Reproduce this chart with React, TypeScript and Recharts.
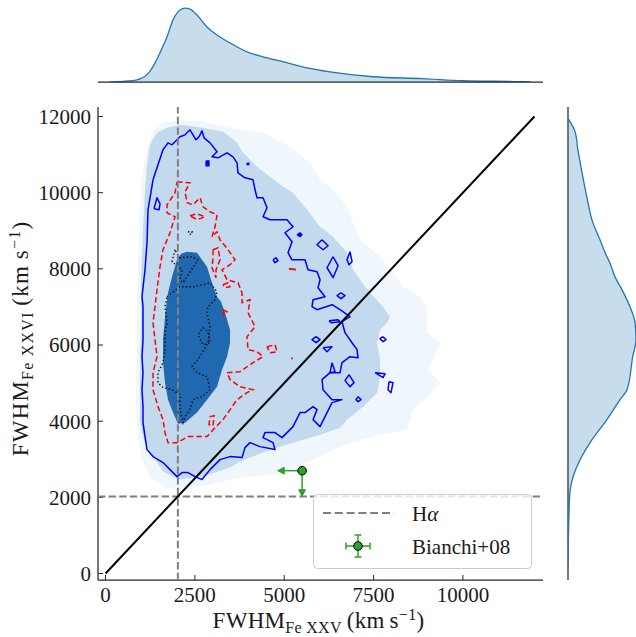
import React from 'react';
import { ComposedChart, AreaChart, Area, Scatter, XAxis, YAxis, ReferenceLine, Legend } from 'recharts';

type P = [number, number];

// ---------- ticks & reference values ----------
const xTicks = [0, 2500, 5000, 7500, 10000];
const yTicks = [0, 2000, 4000, 6000, 8000, 10000, 12000];
const xDomain: [number, number] = [-210, 12240];
const yDomain: [number, number] = [-170, 12250];
const halphaFwhm = 2025;
const oneToOneLine: P[] = [[0, 0], [12000, 12000]];
const bianchiX = 5500;
const bianchiY = 2700;
const bianchiLimit = 500;

// ---------- marginal KDEs ----------
const topKdeX = [125, 484, 881, 1161, 1329, 1525, 1721, 1889, 2085, 2225, 2364, 2560, 2840, 3120, 3484, 3959, 4407, 4967, 5638, 6282, 7485, 8884, 10004, 11684, 11900];
const topKdeD = [0, 0.02, 0.07, 0.24, 0.5, 0.95, 1.47, 2.02, 2.34, 2.4, 2.37, 2.18, 1.79, 1.53, 1.27, 0.98, 0.82, 0.66, 0.46, 0.33, 0.17, 0.11, 0.04, 0.01, 0];
const rightKdeY = [11950, 11603, 11130, 10526, 9896, 9214, 8768, 8426, 8164, 7796, 7455, 7009, 6589, 6143, 5696, 4830, 4568, 4043, 3439, 2993, 2546, 2126, 1496, 184];
const rightKdeD = [0, 0.15, 0.21, 0.3, 0.4, 0.53, 0.68, 0.79, 0.89, 1.0, 1.15, 1.32, 1.43, 1.45, 1.38, 1.26, 1.11, 0.83, 0.47, 0.26, 0.11, 0.04, 0.02, 0];

// ---------- filled KDE levels (sample 1) ----------
const kdeLevelOuter: P[] = [
  [1189, 11257], [1329, 11572], [1441, 11703], [1609, 11834], [2001, 11887], [2560, 11887], [3484, 11703], [4407, 11572],
  [5162, 11204], [5722, 10785], [6002, 10339], [6366, 10076], [6757, 9630], [6925, 9210], [7121, 8764], [7681, 8318],
  [8044, 7898], [8324, 7531], [8800, 7268], [8996, 7006], [8996, 6324], [9360, 6061], [9164, 5615], [8996, 5353],
  [9276, 5091], [9360, 5012], [8996, 4644], [8604, 4303], [8436, 3779], [7485, 3595], [6562, 3332], [5638, 2913],
  [4687, 2598], [3763, 2519], [2924, 2335], [2085, 2204], [1665, 2257], [1245, 2519], [1021, 2991], [909, 3516],
  [853, 4566], [881, 7190], [937, 9027], [1021, 10470],
];
const kdeLevelMid: P[] = [
  [1245, 11257], [1441, 11572], [1721, 11703], [2085, 11782], [2560, 11729], [3288, 11598], [3484, 11467], [3679, 11309],
  [3847, 11047], [4239, 10680], [4603, 10417], [4967, 10155], [5246, 9997], [5638, 9551], [6002, 9105], [6366, 8843],
  [6757, 8423], [6925, 7977], [7121, 7715], [7401, 7373], [7765, 7006], [7960, 6744], [7876, 6586], [7681, 6403],
  [7597, 6061], [7681, 5615], [7681, 5169], [7597, 4749], [7205, 4382], [6757, 4041], [6562, 3831], [6002, 3647],
  [5246, 3437], [4603, 3254], [3763, 2939], [3484, 2781], [2728, 2545], [2085, 2467], [1609, 2676], [1245, 3201],
  [1049, 3595], [965, 4041], [965, 5091], [993, 6403], [993, 7715], [1049, 9027], [1105, 10076], [1161, 10732],
];
const kdeLevelCore: P[] = [
  [2281, 8449], [2560, 8423], [2840, 8056], [2980, 7636], [3120, 7268], [3232, 7137], [3344, 6849], [3484, 6403],
  [3484, 6061], [3400, 5694], [3260, 5353], [3120, 4907], [2840, 4566], [2560, 4225], [2225, 3962], [2029, 3936],
  [1889, 4225], [1749, 4566], [1665, 5012], [1609, 5537], [1609, 6140], [1665, 6744], [1721, 7190], [1749, 7373],
  [1861, 7793], [2001, 8239], [2113, 8397],
];

// ---------- line contours (sample 2) ----------
const blueContour: P[] = [
  [1329, 10339], [1469, 10732], [1609, 11126], [1749, 11309], [1861, 11257], [1945, 11336], [2085, 11467], [2225, 11519],
  [2364, 11651], [2532, 11388], [2616, 11467], [2700, 11624], [2756, 11441], [2924, 11309], [3120, 11073], [2980, 10942],
  [3148, 10916], [3400, 11047], [3568, 10942], [3679, 10785], [3707, 10522], [3903, 10391], [4127, 10339], [4183, 10076],
  [4239, 9866], [4407, 9866], [4519, 9604], [4407, 9368], [4603, 9289], [5078, 9289], [5246, 9105], [5022, 8948],
  [5218, 8712], [5106, 8423], [5218, 8239], [5582, 8239], [5666, 7977], [5918, 7924], [6002, 7715], [5946, 7505],
  [6142, 7268], [5806, 7190], [5778, 7006], [5918, 6927], [6338, 7059], [6562, 6927], [6841, 6744], [6617, 6612],
  [6701, 6324], [6897, 6061], [7037, 5878], [7065, 5668], [6841, 5694], [6617, 5537], [6562, 5274], [6282, 5274],
  [6058, 5091], [6086, 4828], [6338, 4566], [6617, 4566], [6338, 4487], [6198, 4225], [6002, 3857], [5806, 4041],
  [5918, 4303], [5806, 4382], [5582, 4225], [5442, 4225], [5246, 3857], [4939, 3569], [4743, 3700], [4463, 3700],
  [4407, 3569], [4687, 3437], [4743, 3254], [4323, 3332], [4043, 3437], [3903, 3306], [3819, 3044], [3484, 3070],
  [3204, 2991], [2924, 2729], [2700, 2467], [2504, 2545], [2309, 2650], [2141, 2650], [2001, 2545], [1805, 2729],
  [1609, 2913], [1329, 3070], [1161, 3254], [1105, 3595], [1049, 3962], [1049, 4382], [1021, 4828], [1049, 5274],
  [1021, 5694], [1049, 6140], [1049, 6586], [1049, 7006], [1021, 7268], [1105, 7977], [1161, 8685], [1189, 9551],
];
const blueIslands: P[][] = [
  [[1357, 9577], [1441, 9866], [1525, 9709], [1497, 9551]],
  [[4687, 8239], [4771, 8292], [4827, 8213], [4743, 8161]],
  [[6058, 8764], [6226, 8607], [6086, 8502], [5918, 8633]],
  [[6366, 8318], [6506, 8082], [6366, 7767], [6198, 8029]],
  [[6841, 8449], [6897, 8187], [6813, 8108], [6757, 8239]],
  [[6589, 7373], [6701, 7295], [6589, 7216], [6478, 7295]],
  [[6254, 6638], [6506, 6665], [6562, 6612], [6310, 6586]],
  [[5890, 6219], [6002, 6140], [5890, 6061], [5778, 6140]],
  [[6086, 5930], [6338, 5956], [6198, 5825]],
  [[6338, 5537], [6422, 5300], [6282, 5274]],
  [[6813, 5222], [6953, 5012], [6841, 4907], [6701, 5065]],
  [[7065, 4644], [7149, 4566], [7065, 4513], [7009, 4566]],
  [[7765, 6219], [7849, 6140], [7765, 6088], [7681, 6166]],
  [[7541, 5274], [7821, 5248], [7765, 5143]],
  [[7932, 5038], [8044, 5012], [7988, 4749], [7904, 4828]],
];
const blueBlobs: P[][] = [
  [[2812, 10837], [2896, 10837], [2896, 10706], [2812, 10706]],
  [[5358, 8895], [5442, 8948], [5498, 8895], [5442, 8843]],
  [[3960, 10780], [4010, 10780], [4010, 10735], [3960, 10735]],
];
const redContour: P[] = [
  [2001, 10286], [2364, 10260], [2225, 10024], [2281, 9735], [2448, 9683], [2644, 9866], [2728, 9630], [2924, 9499],
  [3120, 9420], [3064, 9105], [2980, 8843], [3120, 8974], [3204, 8764], [3428, 8502], [3623, 8239], [3484, 8108],
  [3260, 7977], [3400, 7715], [3707, 7636], [3819, 7373], [3819, 7111], [4043, 7190], [3987, 6849], [4183, 6481],
  [3959, 6219], [3987, 5878], [4239, 5825], [4407, 5694], [4127, 5537], [3763, 5300], [3400, 5274], [3484, 5091],
  [3763, 4907], [4127, 4828], [3959, 4749], [3679, 4566], [3484, 4303], [3288, 4041], [3064, 3831], [2840, 3595],
  [2560, 3595], [2309, 3595], [2001, 3437], [1749, 3437], [1665, 3700], [1609, 4041], [1469, 4382], [1329, 4828],
  [1329, 5274], [1441, 5694], [1385, 6140], [1329, 6586], [1385, 7006], [1441, 7452], [1525, 8056], [1609, 8502],
  [1805, 8948], [1945, 9368], [1721, 9473], [1721, 9683], [1945, 9997],
];
const redIslands: P[][] = [
  [[2364, 9394], [2560, 9446], [2784, 9368], [2560, 9289]],
  [[3008, 8502], [3148, 8554], [3204, 8239], [3092, 7977], [3092, 7767], [2980, 8029], [3008, 8292]],
  [[3288, 7583], [3428, 7636], [3484, 7531], [3344, 7505]],
  [[4519, 5956], [4743, 6009], [4799, 5825], [4603, 5799]],
  [[3288, 6927], [3400, 6875], [3316, 6796]],
  [[2924, 4120], [3036, 4146], [3008, 3884], [2896, 3910]],
];
const redSpecks: P[][] = [
  [[5134, 8003], [5330, 7977]],
  [[5190, 5650], [5240, 5650]],
];
const blackContour: P[] = [
  [1721, 7268], [2085, 7531], [2504, 7531], [2924, 7636], [3120, 7400], [3064, 7190], [2868, 7006], [2840, 6849],
  [2924, 6481], [2868, 6061], [2644, 5694], [2420, 5432], [2560, 5274], [2840, 5169], [2924, 4828], [2700, 4644],
  [2448, 4566], [2364, 4303], [2225, 4120], [2169, 3962], [2085, 4303], [2085, 4697], [1861, 4828], [1609, 4881],
  [1469, 5012], [1469, 5274], [1609, 5537], [1665, 5878], [1665, 6324], [1721, 6586], [1665, 7006],
];
const blackIslands: P[][] = [
  [[1945, 8502], [1861, 8187], [2141, 7977], [2085, 7715], [2169, 7636], [2448, 8029], [2588, 8239], [2420, 8318], [2085, 8292], [2001, 8397]],
  [[2728, 6455], [2868, 6350], [2924, 6061], [2728, 6009], [2588, 6271]],
  [[2309, 8974], [2420, 8974], [2392, 8895]],
];

// ---------- helpers ----------
const toPts = (arr: P[], closed = true) => {
  const pts = arr.map(([x, y]) => ({ x, y }));
  if (closed && arr.length > 2) pts.push({ x: arr[0][0], y: arr[0][1] });
  return pts;
};
const NoDot = () => <g />;
const SERIF = 'Liberation Serif, DejaVu Serif, serif';
const INK = '#1a1a1a';
const SPINE = '#262626';
const GREEN = '#2ca02c';
const serifStyle = { fontFamily: SERIF };

const topKde = topKdeX.map((x, i) => ({ x, d: topKdeD[i] }));
const rightKde = rightKdeY.map((y, i) => ({ x: rightKdeD[i], y }));

const XTitle = (props: any) => {
  const vb = props && props.viewBox ? props.viewBox : { x: 98, y: 580, width: 445, height: 40 };
  const cx = vb.x + vb.width / 2 - 2;
  const y = vb.y + 48;
  return (
    <text x={cx} y={y} textAnchor="middle" style={serifStyle} fontFamily={SERIF} fontSize={23} letterSpacing={0.3} fill={INK}>
      FWHM<tspan fontSize={16} dy={5}>Fe XXV</tspan>
      <tspan dy={-5}>{'\u2009(km\u2009s'}</tspan>
      <tspan fontSize={16} dy={-8}>{'\u22121'}</tspan>
      <tspan dy={8}>)</tspan>
    </text>
  );
};

const YTitle = (props: any) => {
  const vb = props && props.viewBox ? props.viewBox : { x: 38, y: 107, width: 60, height: 473 };
  const cx = 28;
  const cy = vb.y + vb.height / 2 - 5;
  return (
    <text transform={`rotate(-90 ${cx} ${cy})`} x={cx} y={cy} textAnchor="middle" style={serifStyle} fontFamily={SERIF} fontSize={23} letterSpacing={1.2} fill={INK}>
      FWHM<tspan fontSize={16} dy={5}>Fe XXVI</tspan>
      <tspan dy={-5}>{'\u2009(km\u2009s'}</tspan>
      <tspan fontSize={16} dy={-8}>{'\u22121'}</tspan>
      <tspan dy={8}>)</tspan>
    </text>
  );
};

const LegendBox = () => (
  <svg width={220} height={76} style={{ display: 'block', overflow: 'visible' }}>
    <rect x={0.5} y={0.5} width={218} height={74} rx={4} ry={4} fill="rgba(255,255,255,0.8)" stroke="#cccccc" strokeWidth={1} />
    <line x1={10} x2={81} y1={19} y2={19} stroke="#808080" strokeWidth={2} strokeDasharray="8 3.8" />
    <text x={99} y={27} style={serifStyle} fontFamily={SERIF} fontSize={21} fill={INK}>
      H<tspan fontStyle="italic">{'\u03b1'}</tspan>
    </text>
    <g stroke={GREEN} strokeWidth={1.5}>
      <line x1={33} x2={57} y1={52} y2={52} />
      <line x1={45} x2={45} y1={41} y2={63} />
      <line x1={33} x2={33} y1={48.5} y2={55.5} />
      <line x1={57} x2={57} y1={48.5} y2={55.5} />
      <line x1={41.5} x2={48.5} y1={41} y2={41} />
      <line x1={41.5} x2={48.5} y1={63} y2={63} />
    </g>
    <circle cx={45} cy={52} r={4.3} fill={GREEN} stroke="#000" strokeWidth={1} />
    <text x={99} y={60} style={serifStyle} fontFamily={SERIF} fontSize={21} fill={INK}>Bianchi+08</text>
  </svg>
);

const ArrowHead = (props: any) => {
  const { cx, cy, payload } = props;
  if (!payload || !payload.head || cx == null || cy == null) return <g />;
  if (payload.head === 'left') {
    return <path d={`M${cx},${cy - 3.4} L${cx - 6.5},${cy} L${cx},${cy + 3.4} Z`} fill={GREEN} stroke={GREEN} strokeWidth={1} />;
  }
  return <path d={`M${cx - 3.4},${cy} L${cx},${cy + 6.5} L${cx + 3.4},${cy} Z`} fill={GREEN} stroke={GREEN} strokeWidth={1} />;
};

const PointMarker = (props: any) => {
  const { cx, cy } = props;
  if (cx == null || cy == null) return <g />;
  return <circle cx={cx} cy={cy} r={4.3} fill={GREEN} stroke="#000" strokeWidth={1} />;
};

const tickStyle = { fontSize: 21, fontFamily: SERIF, fill: INK, style: serifStyle };

export default function App() {
  const leftArrow = [
    { x: bianchiX, y: bianchiY },
    { x: bianchiX - bianchiLimit, y: bianchiY, head: 'left' },
  ];
  const downArrow = [
    { x: bianchiX, y: bianchiY },
    { x: bianchiX, y: bianchiY - bianchiLimit, head: 'down' },
  ];
  return (
    <div style={{ position: 'absolute', left: 0, top: 0, width: 636, height: 637, background: '#fff', fontFamily: SERIF }}>
      {/* top marginal */}
      <div style={{ position: 'absolute', left: 0, top: 0 }}>
        <AreaChart width={636} height={100} data={topKde} margin={{ top: 0, right: 93, bottom: 8, left: 98 }}>
          <XAxis type="number" dataKey="x" domain={xDomain} allowDataOverflow ticks={xTicks} interval={0}
            tick={false} tickSize={-3.5} height={10}
            axisLine={{ stroke: SPINE, strokeWidth: 1.25 }} tickLine={{ stroke: SPINE, strokeWidth: 1 }} />
          <YAxis hide width={0} domain={[0, 2.667]} allowDataOverflow />
          <Area type="monotone" dataKey="d" stroke="#1f77b4" strokeWidth={1.3} fill="#1f77b4" fillOpacity={0.25}
            isAnimationActive={false} dot={false} activeDot={false} />
        </AreaChart>
      </div>
      {/* right marginal */}
      <div style={{ position: 'absolute', left: 0, top: 0 }}>
        <ComposedChart width={636} height={637} margin={{ top: 107, right: 0, bottom: 57, left: 558 }}>
          <XAxis hide type="number" dataKey="x" domain={[0, 1.45]} allowDataOverflow height={0} />
          <YAxis type="number" dataKey="y" domain={yDomain} allowDataOverflow ticks={yTicks} interval={0}
            tick={false} tickSize={-3.5} width={10}
            axisLine={{ stroke: SPINE, strokeWidth: 1.25 }} tickLine={{ stroke: SPINE, strokeWidth: 1 }} />
          <Scatter data={rightKde} shape={NoDot} lineJointType="monotoneY" isAnimationActive={false}
            line={{ stroke: '#1f77b4', strokeWidth: 1.3, fill: 'rgba(31,119,180,0.25)' }} />
        </ComposedChart>
      </div>
      {/* main joint axes */}
      <div style={{ position: 'absolute', left: 0, top: 0 }}>
        <ComposedChart width={636} height={637} margin={{ top: 107, right: 93, bottom: 17, left: 38 }}>
          <XAxis type="number" dataKey="x" domain={xDomain} allowDataOverflow ticks={xTicks} interval={0}
            tickSize={-5} tickMargin={12} height={40} tick={tickStyle}
            axisLine={{ stroke: SPINE, strokeWidth: 1.25 }} tickLine={{ stroke: SPINE, strokeWidth: 1 }}
            label={<XTitle />} />
          <YAxis type="number" dataKey="y" domain={yDomain} allowDataOverflow ticks={yTicks} interval={0}
            tickSize={-5} tickMargin={12} width={60} tick={tickStyle}
            axisLine={{ stroke: SPINE, strokeWidth: 1.25 }} tickLine={{ stroke: SPINE, strokeWidth: 1 }}
            label={<YTitle />} />

          <Scatter data={toPts(kdeLevelOuter)} shape={NoDot} isAnimationActive={false}
            line={{ fill: '#eff6fc', stroke: 'none' }} />
          <Scatter data={toPts(kdeLevelMid)} shape={NoDot} isAnimationActive={false}
            line={{ fill: '#c2d9ee', stroke: 'none' }} />
          <Scatter data={toPts(kdeLevelCore)} shape={NoDot} isAnimationActive={false}
            line={{ fill: '#2068b0', stroke: 'none' }} />

          <Scatter data={toPts(blueContour)} shape={NoDot} isAnimationActive={false}
            line={{ stroke: '#0000ff', strokeWidth: 1.5, fill: 'none', strokeLinejoin: 'round' }} />
          {blueIslands.map((isl, i) => (
            <Scatter key={'bi' + i} data={toPts(isl)} shape={NoDot} isAnimationActive={false}
              line={{ stroke: '#0000ff', strokeWidth: 1.5, fill: 'none', strokeLinejoin: 'round' }} />
          ))}
          {blueBlobs.map((isl, i) => (
            <Scatter key={'bb' + i} data={toPts(isl)} shape={NoDot} isAnimationActive={false}
              line={{ stroke: '#0000ff', strokeWidth: 1.2, fill: '#0000ff' }} />
          ))}
          <Scatter data={toPts(redContour)} shape={NoDot} isAnimationActive={false}
            line={{ stroke: '#ff0000', strokeWidth: 1.5, fill: 'none', strokeDasharray: '5.5 3' }} />
          {redIslands.map((isl, i) => (
            <Scatter key={'ri' + i} data={toPts(isl)} shape={NoDot} isAnimationActive={false}
              line={{ stroke: '#ff0000', strokeWidth: 1.5, fill: 'none', strokeDasharray: '5.5 3' }} />
          ))}
          {redSpecks.map((isl, i) => (
            <Scatter key={'rs' + i} data={toPts(isl, false)} shape={NoDot} isAnimationActive={false}
              line={{ stroke: '#ff0000', strokeWidth: 1.8, fill: 'none' }} />
          ))}
          <Scatter data={toPts(blackContour)} shape={NoDot} isAnimationActive={false}
            line={{ stroke: '#000000', strokeWidth: 1.4, fill: 'none', strokeDasharray: '1.3 2.4' }} />
          {blackIslands.map((isl, i) => (
            <Scatter key={'ki' + i} data={toPts(isl)} shape={NoDot} isAnimationActive={false}
              line={{ stroke: '#000000', strokeWidth: 1.4, fill: 'none', strokeDasharray: '1.3 2.4' }} />
          ))}

          <ReferenceLine x={halphaFwhm} stroke="#808080" strokeWidth={2} strokeDasharray="7.4 3.2" ifOverflow="extendDomain" zIndex={700} />
          <ReferenceLine y={halphaFwhm} stroke="#808080" strokeWidth={2} strokeDasharray="7.4 3.2" ifOverflow="extendDomain" zIndex={700} />
          <ReferenceLine segment={oneToOneLine.map(([x, y]) => ({ x, y }))} stroke="#000" strokeWidth={2} zIndex={700} />

          <Scatter data={leftArrow} shape={ArrowHead} isAnimationActive={false} zIndex={800}
            line={{ stroke: GREEN, strokeWidth: 1.5, fill: 'none' }} />
          <Scatter data={downArrow} shape={ArrowHead} isAnimationActive={false} zIndex={800}
            line={{ stroke: GREEN, strokeWidth: 1.5, fill: 'none' }} />
          <Scatter data={[{ x: bianchiX, y: bianchiY }]} shape={PointMarker} isAnimationActive={false} zIndex={800} />

          <Legend layout="vertical" align="center" verticalAlign="middle"
            wrapperStyle={{ left: 313, top: 494, width: 220, height: 76 }}
            content={() => <LegendBox />} />
        </ComposedChart>
      </div>
    </div>
  );
}
